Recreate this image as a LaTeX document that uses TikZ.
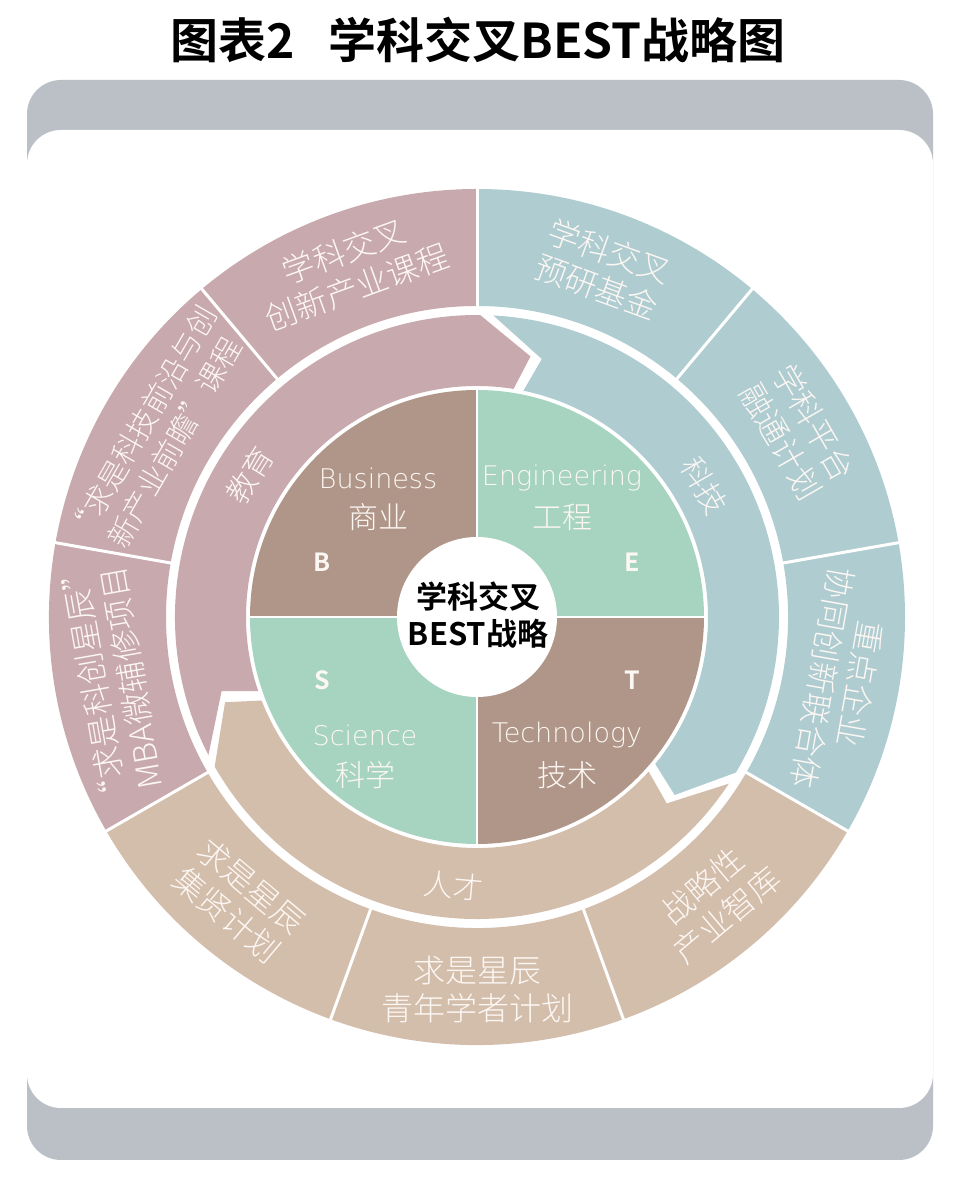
\documentclass[tikz,border=0pt]{standalone}
\usepackage{fontspec}
\newfontfamily\lightf{Noto Sans CJK SC Light}
\newfontfamily\boldf{Noto Sans CJK SC Bold}
\IfFontExistsTF{DejaVu Sans ExtraLight}
  {\newfontfamily\latinf{DejaVu Sans ExtraLight}}
  {\newfontfamily\latinf{Noto Sans CJK SC Light}}
\definecolor{pinkc}{HTML}{C8A9AE}
\definecolor{bluec}{HTML}{AFCCD1}
\definecolor{tanc}{HTML}{D3BDAB}
\definecolor{brownc}{HTML}{B09689}
\definecolor{greenc}{HTML}{A7D3C1}
\definecolor{framec}{HTML}{BBBFC6}
\definecolor{txtc}{HTML}{FCF7F3}
% middle band with chevron: #1 colour, #2 start (notch) angle, #3 end (tip) angle
\newcommand\midband[3]{%
  \fill[#1] ({#2+11}:302) arc[start angle={#2+11}, end angle={#3+11}, radius=302]
    -- (#3:266) -- ({#3+2.5}:231)
    arc[start angle={#3+2.5}, end angle={#2+2.5}, radius=231]
    -- (#2:266) -- cycle;}
\newcommand\outsector[3]{%
  \fill[#1] (#2:311) arc[start angle=#2, end angle=#3, radius=311]
    -- (#3:428) arc[start angle=#3, end angle=#2, radius=428] -- cycle;}
\tikzset{
  outerlbl/.style={font=\lightf\fontsize{32}{38}\selectfont, text=txtc, align=center, inner sep=0pt},
  outersmall/.style={outerlbl, font=\lightf\fontsize{29.5}{37}\selectfont},
  midlbl/.style={font=\lightf\fontsize{30}{34}\selectfont, text=txtc, inner sep=0pt},
  quadlbl/.style={font=\latinf\fontsize{27}{30}\selectfont, text=txtc, inner sep=0pt},
  quadcjk/.style={font=\lightf\fontsize{30}{32}\selectfont, text=txtc, inner sep=0pt},
  letterlbl/.style={font=\boldf\fontsize{25}{28}\selectfont, text=txtc, inner sep=0pt},
  divider/.style={white, line width=3pt}
}
\begin{document}
\begin{tikzpicture}[x=1pt,y=1pt]
\useasboundingbox (0,0) rectangle (960,1184);
\fill[white] (0,0) rectangle (960,1184);
% frame
\fill[framec, rounded corners=34] (27,24) rectangle (933,1104);
\fill[white, rounded corners=34] (27,76) rectangle (933,1054);
% title
\node[font=\boldf\fontsize{48}{52}\selectfont, inner sep=0pt] (title) at (478,1144) {图表2\hspace{0.7em}学科交叉BEST战略图};

\begin{scope}[shift={(477,567)}]
  % outer ring
  \outsector{pinkc}{90}{210}
  \outsector{tanc}{210}{330}
  \outsector{bluec}{330}{450}
  \foreach \a in {90,130,...,410} \draw[divider] (\a:308) -- (\a:431);
  % middle ring arrows
  \midband{pinkc}{196.2}{78.4}
  \midband{bluec}{75.9}{-42}
  \midband{tanc}{-44.5}{-161.3}
  % quadrants
  \fill[greenc] (0,0) -- (0:227) arc[start angle=0, end angle=90, radius=227] -- cycle;
  \fill[brownc] (0,0) -- (90:227) arc[start angle=90, end angle=180, radius=227] -- cycle;
  \fill[greenc] (0,0) -- (180:227) arc[start angle=180, end angle=270, radius=227] -- cycle;
  \fill[brownc] (0,0) -- (270:227) arc[start angle=270, end angle=360, radius=227] -- cycle;
  \draw[white, line width=2.5pt] (-228,0) -- (228,0);
  \draw[white, line width=2.5pt] (0,-228) -- (0,228);
  \fill[white] (0,0) circle[radius=80];
  \node[font=\boldf\fontsize{31}{37}\selectfont, align=center, inner sep=0pt] (core) at (1,2) {学科交叉\\BEST战略};
  % quadrant labels
  \node[quadlbl] (bus) at (-99,139) {Business};
  \node[quadcjk] (busc) at (-99,100) {商业};
  \node[letterlbl] (lb) at (-155,55) {B};
  \node[quadlbl] (eng) at (85,139) {Engineering};
  \node[quadcjk] (engc) at (85,100) {工程};
  \node[letterlbl] (le) at (155,55) {E};
  \node[letterlbl] (ls) at (-155,-63) {S};
  \node[letterlbl] (lt) at (155,-63) {T};
  \node[quadlbl] (sci) at (-112,-118) {Science};
  \node[quadcjk] (scic) at (-112,-158) {科学};
  \node[quadlbl] (tec) at (90,-118) {Technology};
  \node[quadcjk] (tecc) at (90,-158) {技术};
  % middle labels
  \node[midlbl, rotate=58] (m1) at (148:268) {教育};
  \node[midlbl, rotate=-60] (m2) at (30:262) {科技};
  \node[midlbl, rotate=-5] (m3) at (265:270) {人才};
  % outer labels
  \node[outerlbl, rotate=20] (o1) at (110:370) {学科交叉\\创新产业课程};
  \node[outersmall, rotate=60] (o2) at (150:368) {“求是科技前沿与创\\新产业前瞻”课程};
  \node[outerlbl, rotate=100] (o3) at (190:370) {“求是科创星辰”\\MBA微辅修项目};
  \node[outerlbl, rotate=-40] (o4) at (230:370) {求是星辰\\集贤计划};
  \node[outerlbl] (o5) at (270:372) {求是星辰\\青年学者计划};
  \node[outerlbl, rotate=40] (o6) at (310:370) {战略性\\产业智库};
  \node[outerlbl, rotate=-100] (o7) at (350:370) {重点企业\\协同创新联合体};
  \node[outerlbl, rotate=-60] (o8) at (30:370) {学科平台\\融通计划};
  \node[outerlbl, rotate=-20] (o9) at (70:370) {学科交叉\\预研基金};
\end{scope}
\end{tikzpicture}
\end{document}
